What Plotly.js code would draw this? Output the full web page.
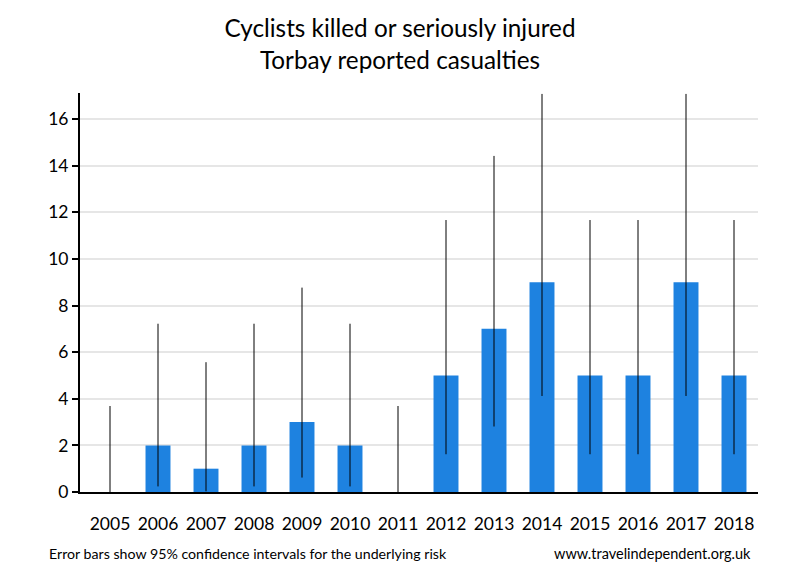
<!DOCTYPE html>
<html>
<head>
<meta charset="utf-8">
<script src="https://cdn.plot.ly/plotly-3.0.1.min.js"></script>
<style>html,body{margin:0;padding:0;background:#fff;}#chart{width:800px;height:580px;}</style>
</head>
<body>
<div id="chart"></div>
<script>
const years = ["2005","2006","2007","2008","2009","2010","2011","2012","2013","2014","2015","2016","2017","2018"];
const casualties = [0, 2, 1, 2, 3, 2, 0, 5, 7, 9, 5, 5, 9, 5];
const ciLower = [0, 0.24, 0.03, 0.24, 0.62, 0.24, 0, 1.62, 2.81, 4.12, 1.62, 1.62, 4.12, 1.62];
const ciUpper = [3.69, 7.22, 5.57, 7.22, 8.77, 7.22, 3.69, 11.67, 14.42, 17.08, 11.67, 11.67, 17.08, 11.67];
const yTicks = [0, 2, 4, 6, 8, 10, 12, 14, 16];

const errPlus = casualties.map((v, i) => ciUpper[i] - v);
const errMinus = casualties.map((v, i) => v - ciLower[i]);

const font = "Lato, 'Open Sans', sans-serif";

const trace = {
  type: 'bar',
  x: years,
  y: casualties,
  marker: {color: 'rgb(30,130,224)'},
  error_y: {
    type: 'data', symmetric: false,
    array: errPlus, arrayminus: errMinus,
    color: '#000', thickness: 1, width: 0
  },
  hoverinfo: 'x+y'
};

const layout = {
  width: 800, height: 580,
  margin: {l: 80, r: 42, t: 93, b: 88},
  paper_bgcolor: '#fff', plot_bgcolor: '#fff',
  showlegend: false,
  bargap: 0.48,
  font: {family: font, color: '#000', size: 17},
  title: {
    text: 'Cyclists killed or seriously injured<br>Torbay reported casualties',
    x: 0.5, xanchor: 'center', xref: 'container',
    y: 0.936, yanchor: 'middle', yref: 'container',
    font: {family: font, size: 24.3, color: '#000'}
  },
  xaxis: {
    type: 'category',
    range: [-0.625, 13.5],
    showline: true, linecolor: '#000', linewidth: 2,
    ticks: '', showgrid: false, zeroline: false,
    tickfont: {family: font, size: 17.5, color: '#000'},
    ticklabelstandoff: 15
  },
  yaxis: {
    range: [0, 17.12],
    tickvals: yTicks, ticktext: yTicks.map(String),
    showline: true, linecolor: '#000', linewidth: 2,
    ticks: 'outside', ticklen: 6, tickwidth: 2, tickcolor: '#000',
    showgrid: true, gridcolor: '#e6e6e6', gridwidth: 2,
    zeroline: false,
    tickfont: {family: font, size: 17.5, color: '#000'}
  },
  annotations: [
    {text: 'Error bars show 95% confidence intervals for the underlying risk', xref: 'paper', yref: 'paper',
     x: -0.048, y: -0.155, xanchor: 'left', yanchor: 'middle', showarrow: false,
     font: {family: font, size: 14.2, color: '#000'}},
    {text: 'www.travelindependent.org.uk', xref: 'paper', yref: 'paper',
     x: 0.993, y: -0.155, xanchor: 'right', yanchor: 'middle', showarrow: false,
     font: {family: font, size: 14.5, color: '#000'}}
  ]
};

Plotly.newPlot('chart', [trace], layout, {displayModeBar: false, staticPlot: true});
</script>
</body>
</html>
